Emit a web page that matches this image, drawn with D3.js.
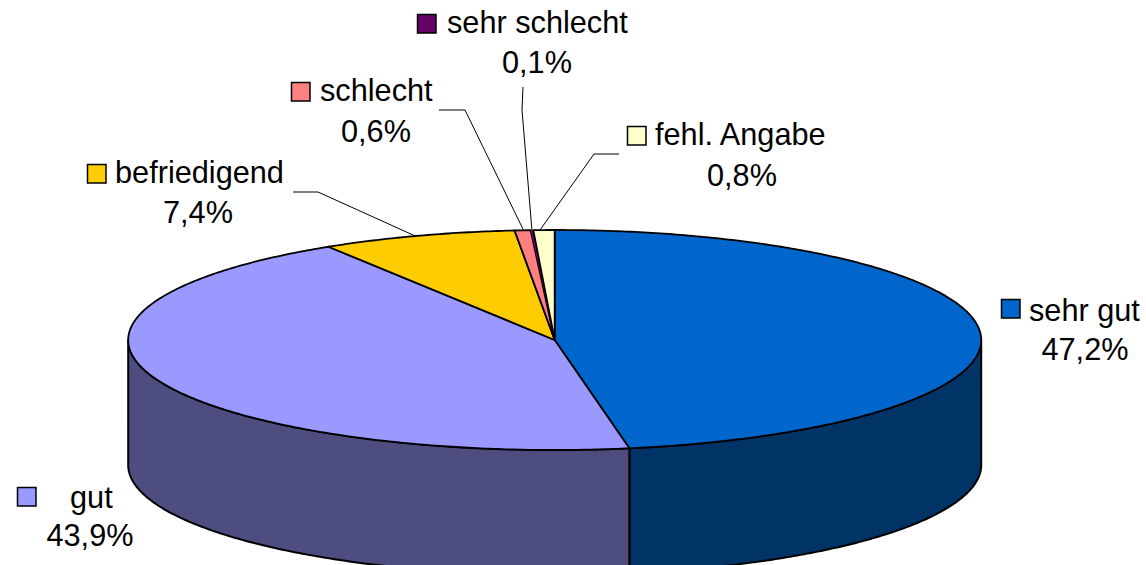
<!DOCTYPE html>
<html>
<head>
<meta charset="utf-8">
<script src="https://cdnjs.cloudflare.com/ajax/libs/d3/7.8.5/d3.min.js"></script>
<style>
html,body{margin:0;padding:0;background:#fff;overflow:hidden}
svg{display:block}
text{font-family:"Liberation Sans",Arial,sans-serif;font-size:30.7px;fill:#000}
</style>
</head>
<body>
<svg id="c" width="1146" height="565"></svg>
<script>
const categories = ["sehr gut","gut","befriedigend","schlecht","sehr schlecht","fehl. Angabe"];
const values = [47.2,43.9,7.4,0.6,0.1,0.8];
const valueLabels = ["47,2%","43,9%","7,4%","0,6%","0,1%","0,8%"];
const topColors = ["#0066cc","#9999ff","#ffcc00","#ff8080","#660066","#ffffcc"];
const sideColors = ["#003366","#4d4d80","#806600","#804040","#330033","#808066"];

// layout of labels (not data): key x/y, name x/baseline, value centre x/baseline
const keyX = [1001,17,87,291,417,627];
const keyY = [299,487,164,82,14,126];
const nameX = [1029,70,115,320,447,655];
const nameY = [321,508,183,101,33,145];
const valueX = [1085,90,198,376,537,742];
const valueY = [360,546,223,142,73,186];
// leader elbows: [label end, elbow] per category; null = none
const leaderStart = [null,null,[[293,192],[318,192]],[[439,110],[465,110]],[[523,87],[522,110]],[[619,154],[594,154]]];
const leaderShift = [0,0,-3,1,0,-4];

const svg = d3.select("#c");
const cx = 554.7, cy = 340, rx = 426.5, ry = 110, depth = 125;
const sx = d3.scaleLinear().domain([-1,1]).range([cx-rx,cx+rx]);
const sy = d3.scaleLinear().domain([-1,1]).range([cy-ry,cy+ry]);
const px = t => sx(Math.sin(t));
const py = t => sy(-Math.cos(t));
const line = d3.line();
const pie = d3.pie().sort(null).value(d=>d)(values);
const sample = (a,b) => {
  const n = Math.max(2,Math.ceil((b-a)/0.01));
  return d3.range(n+1).map(i=>a+(b-a)*i/n);
};

// front wall
const lo = Math.PI/2, hi = 3*Math.PI/2;
pie.forEach((d,i)=>{
  const a = Math.max(d.startAngle,lo), b = Math.min(d.endAngle,hi);
  if(b<=a) return;
  const ts = sample(a,b);
  const pts = ts.map(t=>[px(t),py(t)]).concat(ts.slice().reverse().map(t=>[px(t),py(t)+depth]));
  svg.append("path").attr("d",line(pts)+"Z")
    .attr("fill",sideColors[i]).attr("stroke","#000").attr("stroke-width",2).attr("stroke-linejoin","round");
});

// top face: a sliver too thin for an outline is drawn as a plain wedge
pie.forEach((d,i)=>{
  const pts = [[sx(0),sy(0)]].concat(sample(d.startAngle,d.endAngle).map(t=>[px(t),py(t)]));
  svg.append("path").attr("d",line(pts)+"Z")
    .attr("fill",topColors[i])
    .attr("stroke",values[i]<0.5?"none":"#000")
    .attr("stroke-width",1.8).attr("stroke-linejoin","round");
});

// leaders
pie.forEach((d,i)=>{
  if(!leaderStart[i]) return;
  const m = (d.startAngle+d.endAngle)/2;
  const pts = leaderStart[i].concat([[px(m)+leaderShift[i],py(m)]]);
  svg.append("path").attr("d",line(pts)).attr("fill","none").attr("stroke","#000").attr("stroke-width",1);
});

// labels
categories.forEach((c,i)=>{
  svg.append("rect").attr("x",keyX[i]+.5).attr("y",keyY[i]+.5).attr("width",18.5).attr("height",18.5)
    .attr("fill",topColors[i]).attr("stroke","#000").attr("stroke-width",1.5);
  svg.append("text").attr("x",nameX[i]).attr("y",nameY[i]).text(c);
  svg.append("text").attr("x",valueX[i]).attr("y",valueY[i]).attr("text-anchor","middle").text(valueLabels[i]);
});
</script>
</body>
</html>
